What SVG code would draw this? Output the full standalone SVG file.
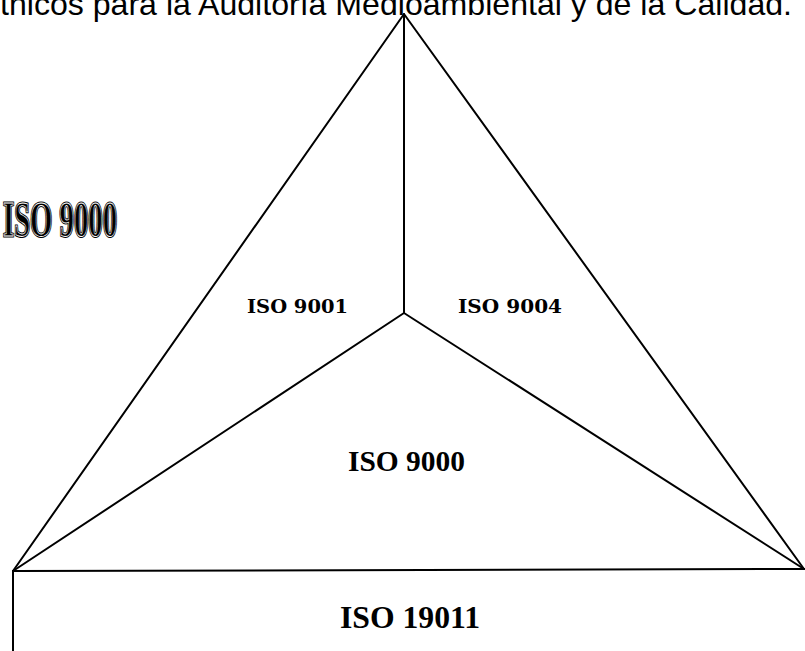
<svg xmlns="http://www.w3.org/2000/svg" width="805" height="651" viewBox="0 0 805 651">
<style>
.ln{stroke:#000;stroke-width:2;fill:none;stroke-linecap:round;stroke-linejoin:round}
.small{font-family:"DejaVu Serif","Liberation Serif",serif;font-weight:bold;font-size:19px;fill:#000}
.big{font-family:"Liberation Serif","Times New Roman",serif;font-weight:bold;fill:#000}
.head{font-family:"Liberation Sans",Arial,sans-serif;font-size:31.5px;fill:#000}
</style>
<rect width="805" height="651" fill="#fff"/>
<g id="title"><text class="head" x="0" y="15" textLength="792" lengthAdjust="spacingAndGlyphs">tnicos para la Auditoría Medioambiental y de la Calidad.</text></g>
<g id="connectors">
<polyline class="ln" points="13,571 404,14 804,569"/>
<line class="ln" x1="404" y1="14" x2="404" y2="313"/>
<line class="ln" x1="404" y1="313" x2="13" y2="571"/>
<line class="ln" x1="404" y1="313" x2="804" y2="569"/>
<line class="ln" x1="13" y1="571" x2="805" y2="569"/>
<line class="ln" x1="13" y1="571" x2="13" y2="651"/>
</g>
<g id="side-label">
<text class="big" x="3" y="236" font-size="50" textLength="114" lengthAdjust="spacingAndGlyphs" style="stroke:#000;stroke-width:3">ISO 9000</text>
<text class="big" x="3" y="236" font-size="50" textLength="114" lengthAdjust="spacingAndGlyphs" style="fill:none;stroke:#fff;stroke-width:0.8">ISO 9000</text>
</g>
<g id="iso9001"><text class="small" x="247" y="313" textLength="101" lengthAdjust="spacingAndGlyphs">ISO 9001</text></g>
<g id="iso9004"><text class="small" x="458" y="313" textLength="104" lengthAdjust="spacingAndGlyphs">ISO 9004</text></g>
<g id="iso9000"><text class="big" x="348" y="471" font-size="29" textLength="117" lengthAdjust="spacingAndGlyphs">ISO 9000</text></g>
<g id="iso19011"><text class="big" x="340" y="628" font-size="31" textLength="140" lengthAdjust="spacingAndGlyphs">ISO 19011</text></g>
</svg>
